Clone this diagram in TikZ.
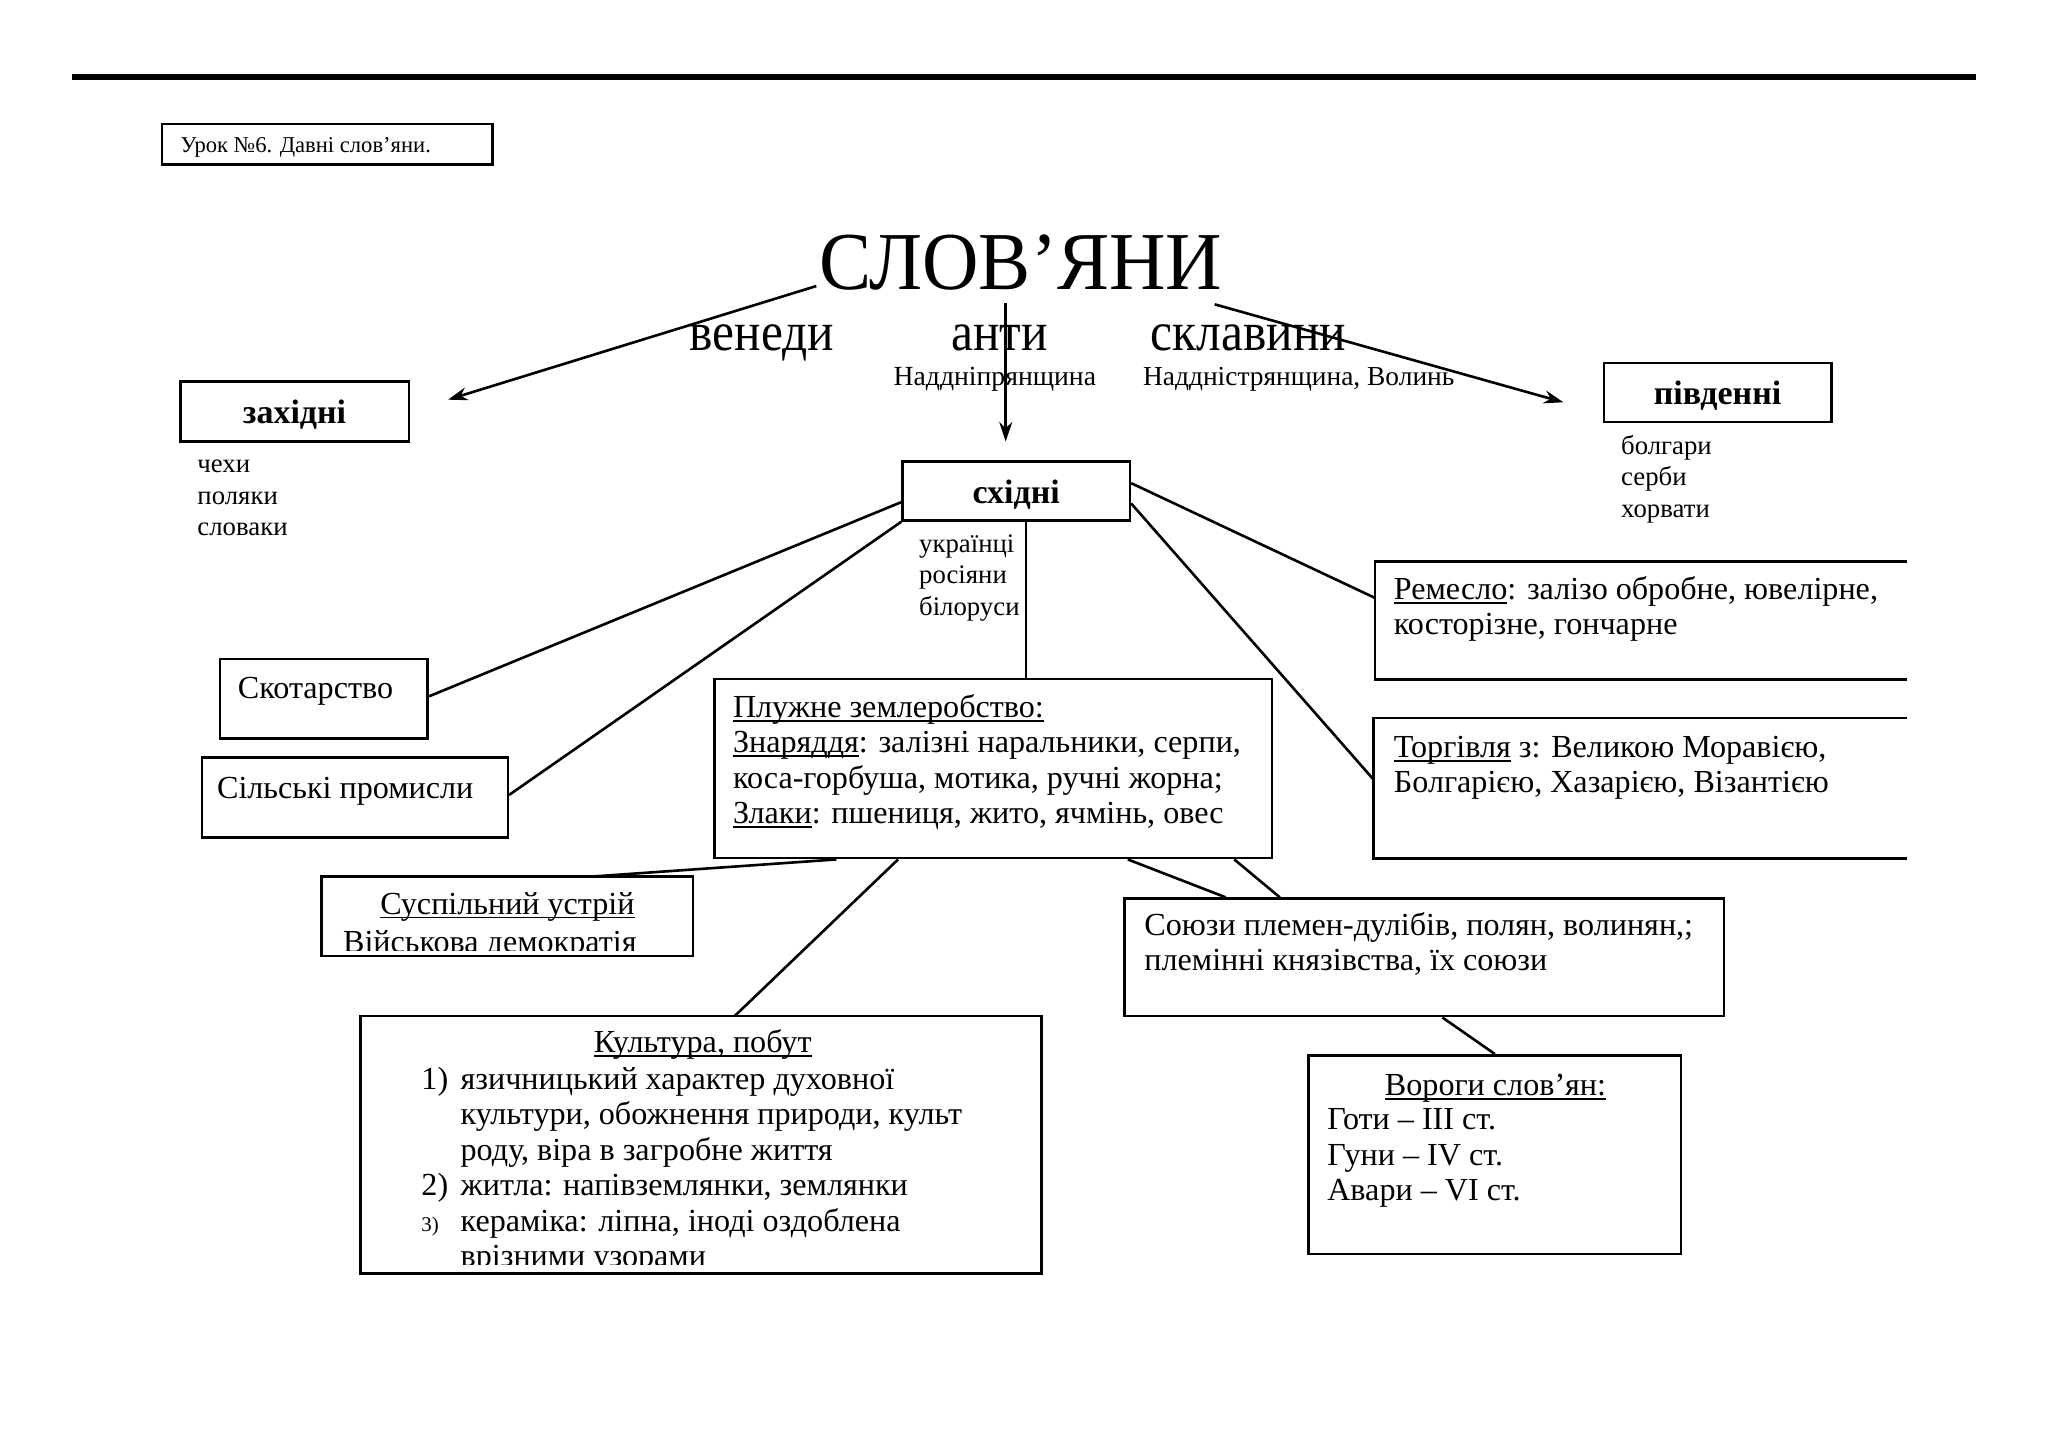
\documentclass[tikz,border=0pt]{standalone}
\usepackage{fontspec}
\setmainfont{Liberation Serif}
\newfontfamily\condfont[FakeStretch=0.9]{Liberation Serif}
\newfontfamily\titlefont[FakeStretch=0.95]{Liberation Serif}
\usetikzlibrary{calc,arrows.meta}
\newsavebox{\ulbox}
\newcommand{\ulx}[1]{\sbox\ulbox{#1}\rlap{\rule[-0.13em]{\wd\ulbox}{0.055em}}\usebox\ulbox}
\newcommand{\lns}[1]{\begin{tabular}[t]{@{}l@{}}#1\end{tabular}}
\tikzset{
  frame/.style={draw, line width=2pt, inner sep=0pt},
  ghost/.style={inner sep=0pt},
  conn/.style={line width=2pt},
  arr/.style={line width=2pt, -{Stealth[length=15pt,width=10pt]}},
  bodytxt/.style={anchor=base west, inner sep=0pt, font=\fontsize{24.6}{27}\selectfont},
  smalltxt/.style={anchor=base west, inner sep=0pt, font=\fontsize{20.5}{24}\selectfont},
  boldtxt/.style={inner sep=0pt, yshift=-2.5pt, font=\fontsize{26}{30}\selectfont\bfseries},
}
\begin{document}
\begin{tikzpicture}[x=1pt,y=-1pt]
\useasboundingbox (0,0) rectangle (1568,1107.9);
\fill[white] (0,0) rectangle (1568,1107.9);
% top rule
\draw[line width=4pt] (55,59) -- (1513,59);

% header box
\node[frame, minimum width=253pt, minimum height=31pt] (hdr) at (250.5,110.5) {};
\node[anchor=base west, inner sep=0pt, font=\fontsize{17.3}{20}\selectfont] (hdrt) at (138,117) {Урок №6. Давні слов’яни.};

% title and tribe names
\node[anchor=base west, inner sep=0pt, font=\fontsize{63}{70}\titlefont] (title) at (627,222) {СЛОВ’ЯНИ};
\node[anchor=base west, inner sep=0pt, font=\fontsize{42}{48}\condfont] (venedy) at (528,268) {венеди};
\node[anchor=base west, inner sep=0pt, font=\fontsize{42}{48}\condfont] (anty) at (728,268) {анти};
\node[anchor=base west, inner sep=0pt, font=\fontsize{42}{48}\condfont] (sklav) at (881,268) {склавини};
\node[smalltxt, font=\fontsize{21.2}{24}\selectfont] (nadn) at (684,295) {Наддніпрянщина};
\node[smalltxt, font=\fontsize{21}{24}\selectfont] (nads) at (875,295) {Наддністрянщина, Волинь};

% group boxes
\node[frame, minimum width=175pt, minimum height=46pt] (zah) at (225.5,315) {};
\node[boldtxt] (zaht) at (zah) {західні};
\node[smalltxt] (zahl) at (151,362) {\lns{чехи\\поляки\\словаки}};

\node[frame, minimum width=174pt, minimum height=45pt] (piv) at (1315,300.5) {};
\node[boldtxt] (pivt) at (piv) {південні};
\node[smalltxt] (pivl) at (1241,348) {\lns{болгари\\серби\\хорвати}};

\node[frame, minimum width=174pt, minimum height=45pt] (sx) at (778,376) {};
\node[boldtxt] (sxt) at (sx) {східні};
\node[smalltxt] (sxl) at (703.5,423) {\lns{українці\\росіяни\\білоруси}};

% arrows from title
\coordinate (aL0) at (625,219);
\coordinate (aL1) at (343,306);
\coordinate (aM0) at (770,232);
\coordinate (aM1) at (770,338);
\coordinate (aR0) at (930,233);
\coordinate (aR1) at (1197,308);
\draw[arr] (aL0) -- (aL1);
\draw[arr] (aM0) -- (aM1);
\draw[arr] (aR0) -- (aR1);

% left boxes
\node[frame, minimum width=159pt, minimum height=61pt] (skot) at (248,535) {};
\node[bodytxt] (skott) at (182,535) {Скотарство};
\node[frame, minimum width=234pt, minimum height=61pt] (silp) at (271.8,610.5) {};
\node[bodytxt] (silpt) at (166,611) {Сільські промисли};

% Pluzhne box
\node[frame, minimum width=427pt, minimum height=137pt] (pluz) at (760.5,588.5) {};
\node[bodytxt] (pluzt) at (561,549.5) {\lns{\ulx{Плужне землеробство:}\\\ulx{Знаряддя}: залізні наральники, серпи,\\коса-горбуша, мотика, ручні жорна;\\\ulx{Злаки}: пшениця, жито, ячмінь, овес}};

% open boxes on the right
\node[ghost, minimum width=407pt, minimum height=90pt] (rem) at (1256.5,475) {};
\draw[line width=2pt] (rem.north east) -- (rem.north west) -- (rem.south west) -- (rem.south east);
\node[bodytxt] (remt) at (1067,459) {\lns{\ulx{Ремесло}: залізо обробне, ювелірне,\\косторізне, гончарне}};
\node[ghost, minimum width=408pt, minimum height=107pt] (torg) at (1256,603.5) {};
\draw[line width=2pt] (torg.north east) -- (torg.north west) -- (torg.south west) -- (torg.south east);
\node[bodytxt] (torgt) at (1067,580) {\lns{\ulx{Торгівля} з: Великою Моравією,\\Болгарією, Хазарією, Візантією}};

% Suspilnyi
\node[ghost, minimum width=284pt, minimum height=60.5pt] (susp) at (388.5,701.5) {};
\begin{scope}
\clip ($(susp.north west)+(0,0)$) rectangle ($(susp.south east)+(0,-4.5)$);
\node[bodytxt, anchor=base] (suspt) at (388.5,700) {\ulx{Суспільний устрій}};
\node[bodytxt] (suspl) at (262.5,729.5) {Військова демократія};
\end{scope}
\draw[line width=2pt] (susp.north west) rectangle (susp.south east);

% Soyuzy
\node[frame, minimum width=459pt, minimum height=90pt] (soy) at (1090.5,733) {};
\node[bodytxt] (soyt) at (876,716) {\lns{Союзи племен-дулібів, полян, волинян,;\\племінні князівства, їх союзи}};

% Vorogy
\node[frame, minimum width=285pt, minimum height=152pt] (vor) at (1144.5,884) {};
\node[bodytxt, anchor=base] (vort) at (1145,839) {\ulx{Вороги слов’ян:}};
\node[bodytxt] (vorl) at (1016,865) {\lns{Готи – III ст.\\Гуни – IV ст.\\Авари – VI ст.}};

% Kultura
\node[ghost, minimum width=521pt, minimum height=197pt] (kult) at (536.5,876.5) {};
\begin{scope}
\clip (kult.north west) rectangle ($(kult.south east)+(0,-7)$);
\node[bodytxt, anchor=base] (kultt) at (538,806) {\ulx{Культура, побут}};
\node[bodytxt, font=\fontsize{24.6}{27.2}\selectfont] (kultn) at (322.5,834) {\lns{1)\\ \\ \\2)\\{\fontsize{16}{27}\selectfont 3)}}};
\node[bodytxt, font=\fontsize{24.6}{27.2}\selectfont] (kultl) at (352.5,834) {\lns{язичницький характер духовної\\культури, обожнення природи, культ\\роду, віра в загробне життя\\житла: напівземлянки, землянки\\кераміка: ліпна, іноді оздоблена\\врізними узорами}};
\end{scope}
\draw[line width=2pt] (kult.north west) rectangle (kult.south east);

% connectors
\coordinate (vx) at (785.5,0);
\draw[conn] ($(sx.north west)!0.68!(sx.south west)$) -- ($(skot.north east)!0.47!(skot.south east)$);
\draw[conn] (sx.south west) -- ($(silp.north east)!0.47!(silp.south east)$);
\draw[conn] (sx.south -| vx) -- (pluz.north -| vx);
\draw[conn] ($(sx.north east)!0.37!(sx.south east)$) -- ($(rem.north west)!0.31!(rem.south west)$);
\draw[conn] ($(sx.north east)!0.7!(sx.south east)$) -- ($(torg.north west)!0.44!(torg.south west)$);
\draw[conn] ($(pluz.south west)!0.22!(pluz.south east)$) -- ($(susp.north west)!0.73!(susp.north east)$);
\draw[conn] ($(pluz.south west)!0.33!(pluz.south east)$) -- ($(kult.north west)!0.55!(kult.north east)$);
\draw[conn] ($(pluz.south west)!0.74!(pluz.south east)$) -- ($(soy.north west)!0.17!(soy.north east)$);
\draw[conn] ($(pluz.south west)!0.93!(pluz.south east)$) -- ($(soy.north west)!0.26!(soy.north east)$);
\draw[conn] ($(soy.south west)!0.53!(soy.south east)$) -- ($(vor.north west)!0.50!(vor.north east)$);
\end{tikzpicture}
\end{document}
